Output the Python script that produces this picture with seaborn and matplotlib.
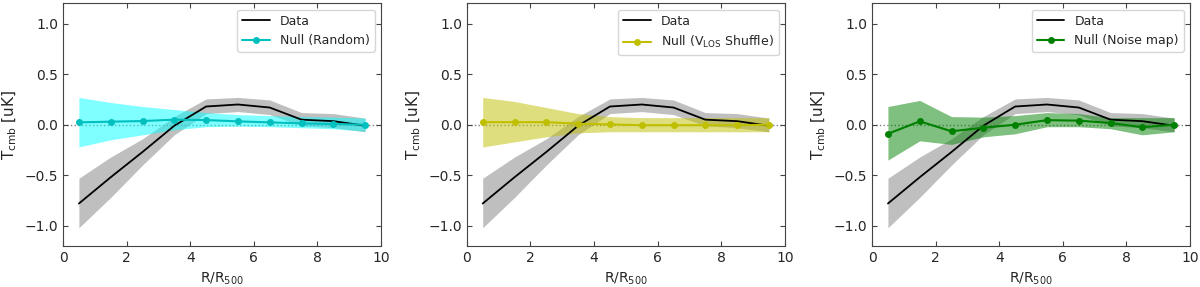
import numpy as np
import pandas as pd
import matplotlib
matplotlib.use("Agg")
import matplotlib.pyplot as plt
import seaborn as sns

# radial bins
r_bins = [0.5, 1.5, 2.5, 3.5, 4.5, 5.5, 6.5, 7.5, 8.5, 9.5]

# measured profile
data_val = [-0.78, -0.52, -0.27, -0.01, 0.18, 0.20, 0.17, 0.05, 0.035, -0.01]
data_hi = [-0.53, -0.32, -0.14, 0.08, 0.255, 0.27, 0.245, 0.12, 0.11, 0.065]
data_lo = [-1.02, -0.72, -0.40, -0.10, 0.11, 0.13, 0.10, -0.01, -0.03, -0.07]

# null tests
rand_val = [0.023, 0.03, 0.036, 0.05, 0.046, 0.033, 0.023, 0.013, 0.007, 0.0]
rand_hi = [0.27, 0.22, 0.18, 0.15, 0.12, 0.10, 0.09, 0.08, 0.075, 0.065]
rand_lo = [-0.22, -0.15, -0.10, -0.05, -0.02, -0.015, -0.02, -0.03, -0.04, -0.065]

shuf_val = [0.025, 0.025, 0.025, 0.01, 0.003, -0.005, -0.005, -0.005, -0.005, 0.0]
shuf_hi = [0.27, 0.23, 0.17, 0.11, 0.08, 0.07, 0.07, 0.07, 0.07, 0.07]
shuf_lo = [-0.22, -0.17, -0.12, -0.08, -0.07, -0.07, -0.07, -0.07, -0.07, -0.07]

noise_val = [-0.09, 0.033, -0.065, -0.03, 0.0, 0.045, 0.04, 0.017, -0.025, 0.0]
noise_hi = [0.18, 0.24, 0.08, 0.075, 0.09, 0.12, 0.11, 0.07, 0.07, 0.07]
noise_lo = [-0.35, -0.16, -0.195, -0.12, -0.09, -0.02, -0.02, -0.04, -0.10, -0.07]

nulls = [
    ("Null (Random)", rand_val, rand_hi, rand_lo, "c", "cyan"),
    ("Null (V$_{\\rm LOS}$ Shuffle)", shuf_val, shuf_hi, shuf_lo, "y", "y"),
    ("Null (Noise map)", noise_val, noise_hi, noise_lo, "g", "g"),
]

sns.set_style("ticks")
plt.rcParams["font.family"] = ["DejaVu Sans"]

fig = plt.figure(figsize=(12, 2.87), dpi=100)
lefts = [0.0525, 0.389, 0.7267]

for left, (label, val, hi, lo, lc, fc) in zip(lefts, nulls):
    ax = fig.add_axes([left, 0.143, 0.265, 0.845])
    df_d = pd.DataFrame({"r": r_bins, "t": data_val})
    df_n = pd.DataFrame({"r": r_bins, "t": val})
    ax.axhline(0, color="gray", ls=":", lw=1, zorder=0)
    ax.fill_between(r_bins, data_lo, data_hi, color="gray", alpha=0.5, lw=0)
    ax.fill_between(r_bins, lo, hi, color=fc, alpha=0.5, lw=0)
    sns.lineplot(data=df_d, x="r", y="t", color="k", lw=1.3, ax=ax, label="Data")
    sns.lineplot(data=df_n, x="r", y="t", color=lc, lw=1.5, marker="o",
                 markersize=5, markeredgewidth=0, ax=ax, label=label)
    ax.set_xlim(0, 10)
    ax.set_ylim(-1.2, 1.2)
    ax.set_xticks([0, 2, 4, 6, 8, 10])
    ax.set_yticks([-1.0, -0.5, 0.0, 0.5, 1.0])
    ax.tick_params(direction="in", top=True, right=True, labelsize=10,
                   color="#444444")
    for s in ax.spines.values():
        s.set_color("#444444")
    ax.set_xlabel("R/R$_{500}$", fontsize=10)
    ax.set_ylabel("T$_{\\rm cmb}$ [uK]", fontsize=11)
    ax.legend(loc="upper right", fontsize=9, handlelength=2.2)

fig.savefig("out.png", dpi=100)
